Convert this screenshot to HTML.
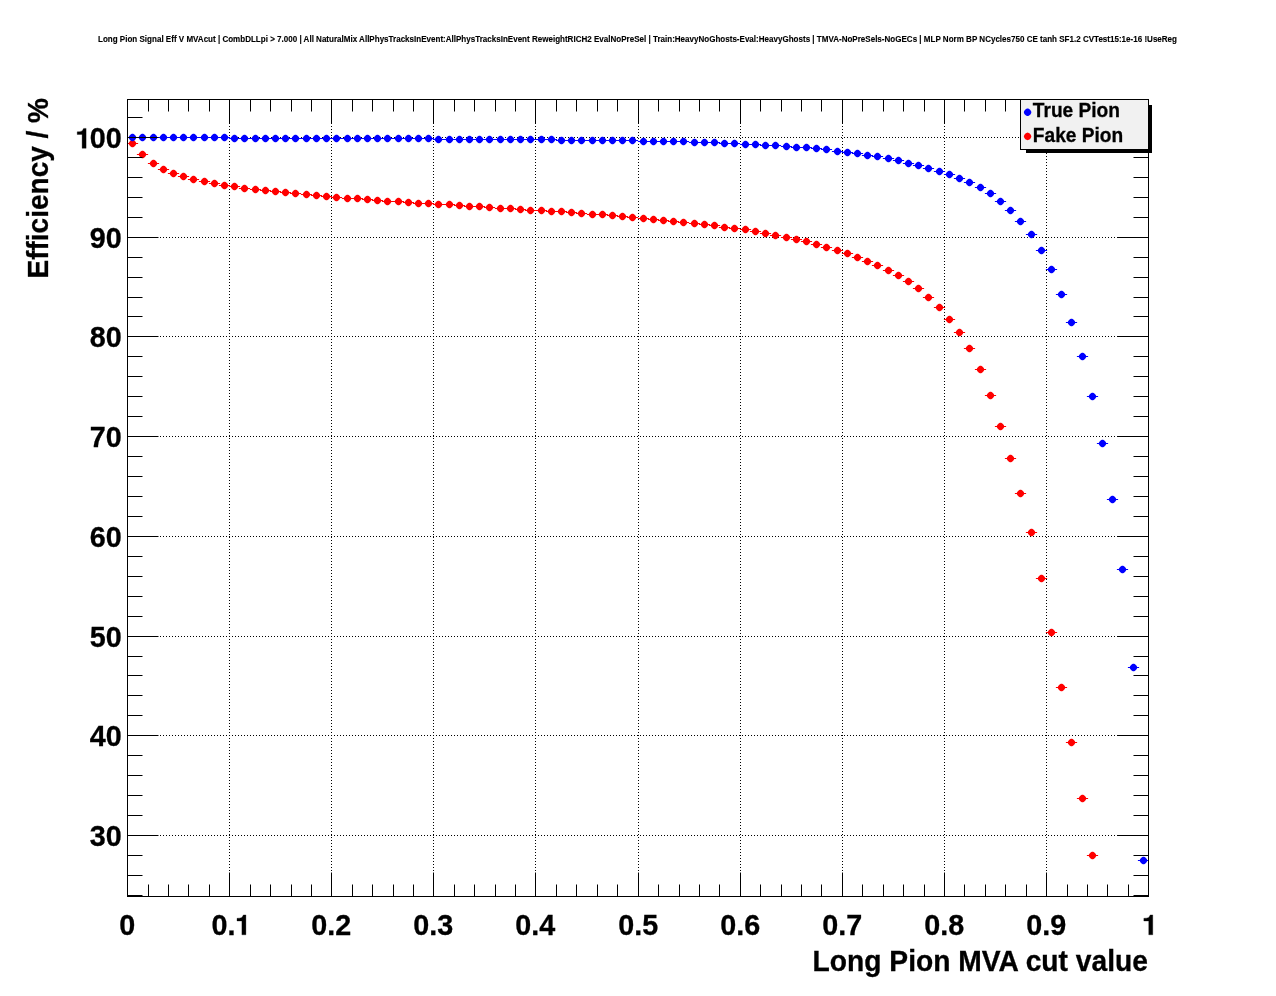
<!DOCTYPE html><html><head><meta charset="utf-8"><style>html,body{margin:0;padding:0;background:#fff;}svg{display:block;will-change:transform}text{font-family:"Liberation Sans",sans-serif;font-weight:bold;stroke:#000;stroke-width:0.3px}</style></head><body>
<svg width="1276" height="996" viewBox="0 0 1276 996">
<rect x="0" y="0" width="1276" height="996" fill="#ffffff"/>
<text x="98" y="42.3" font-size="8.4" style="stroke-width:0.12px" textLength="1079" lengthAdjust="spacingAndGlyphs">Long Pion Signal Eff V MVAcut | CombDLLpi &gt; 7.000 | All NaturalMix AllPhysTracksInEvent:AllPhysTracksInEvent ReweightRICH2 EvalNoPreSel | Train:HeavyNoGhosts-Eval:HeavyGhosts | TMVA-NoPreSels-NoGECs | MLP Norm BP NCycles750 CE tanh SF1.2 CVTest15:1e-16 !UseReg</text>
<path d="M229.5 99V897M331.5 99V897M433.5 99V897M535.5 99V897M638.5 99V897M740.5 99V897M842.5 99V897M944.5 99V897M1046.5 99V897M127 835.5H1149M127 735.5H1149M127 636.5H1149M127 536.5H1149M127 436.5H1149M127 336.5H1149M127 237.5H1149M127 137.5H1149" stroke="#000" stroke-width="1" stroke-dasharray="1 2" fill="none"/>
<defs><path id="mk" d="M3.75 0.00L3.66 0.52L3.41 1.19L3.00 1.86L2.46 2.50L1.84 3.04L1.17 3.45L0.52 3.71L0.00 3.80L-0.52 3.71L-1.17 3.45L-1.84 3.04L-2.46 2.50L-3.00 1.86L-3.41 1.19L-3.66 0.52L-3.75 0.00L-3.66 -0.52L-3.41 -1.19L-3.00 -1.86L-2.46 -2.50L-1.84 -3.04L-1.17 -3.45L-0.52 -3.71L-0.00 -3.80L0.52 -3.71L1.17 -3.45L1.84 -3.04L2.46 -2.50L3.00 -1.86L3.41 -1.19L3.66 -0.52Z"/></defs>
<defs><clipPath id="fr"><rect x="127" y="99" width="1022" height="798"/></clipPath></defs><g clip-path="url(#fr)">
<path d="M126.90 143.50H138.10M136.90 154.50H148.10M147.90 163.50H159.10M157.90 169.50H169.10M167.90 173.50H179.10M177.90 176.50H189.10M187.90 179.50H199.10M198.90 181.50H210.10M208.90 183.50H220.10M218.90 185.50H230.10M228.90 186.50H240.10M238.90 188.50H250.10M249.90 189.50H261.10M259.90 190.50H271.10M269.90 191.50H281.10M279.90 192.50H291.10M289.90 193.50H301.10M300.90 194.50H312.10M310.90 195.50H322.10M320.90 196.50H332.10M330.90 197.50H342.10M341.90 198.50H353.10M351.90 198.50H363.10M361.90 199.50H373.10M371.90 200.50H383.10M381.90 201.50H393.10M392.90 201.50H404.10M402.90 202.50H414.10M412.90 203.50H424.10M422.90 203.50H434.10M432.90 204.50H444.10M443.90 204.50H455.10M453.90 205.50H465.10M463.90 206.50H475.10M473.90 206.50H485.10M483.90 207.50H495.10M494.90 208.50H506.10M504.90 208.50H516.10M514.90 209.50H526.10M524.90 210.50H536.10M535.90 210.50H547.10M545.90 211.50H557.10M555.90 211.50H567.10M565.90 212.50H577.10M575.90 213.50H587.10M586.90 214.50H598.10M596.90 214.50H608.10M606.90 215.50H618.10M616.90 216.50H628.10M626.90 217.50H638.10M637.90 218.50H649.10M647.90 219.50H659.10M657.90 220.50H669.10M667.90 221.50H679.10M677.90 222.50H689.10M688.90 223.50H700.10M698.90 224.50H710.10M708.90 225.50H720.10M718.90 227.50H730.10M728.90 228.50H740.10M739.90 229.50H751.10M749.90 231.50H761.10M759.90 233.50H771.10M769.90 235.50H781.10M780.90 237.50H792.10M790.90 239.50H802.10M800.90 241.50H812.10M810.90 244.50H822.10M820.90 247.50H832.10M831.90 250.50H843.10M841.90 253.50H853.10M851.90 257.50H863.10M861.90 261.50H873.10M871.90 265.50H883.10M882.90 270.50H894.10M892.90 275.50H904.10M902.90 281.50H914.10M912.90 288.50H924.10M922.90 297.50H934.10M933.90 307.50H945.10M943.90 319.50H955.10M953.90 332.50H965.10M963.90 348.50H975.10M974.90 369.50H986.10M984.90 395.50H996.10M994.90 426.50H1006.10M1004.90 458.50H1016.10M1014.90 493.50H1026.10M1025.90 532.50H1037.10M1035.90 578.50H1047.10M1045.90 632.50H1057.10M1055.90 687.50H1067.10M1065.90 742.50H1077.10M1076.90 798.50H1088.10M1086.90 855.50H1098.10" stroke="#ff0000" stroke-width="1.1" fill="none"/>
<use href="#mk" x="132.5" y="143.5" fill="#ff0000"/>
<use href="#mk" x="142.5" y="154.5" fill="#ff0000"/>
<use href="#mk" x="153.5" y="163.5" fill="#ff0000"/>
<use href="#mk" x="163.5" y="169.5" fill="#ff0000"/>
<use href="#mk" x="173.5" y="173.5" fill="#ff0000"/>
<use href="#mk" x="183.5" y="176.5" fill="#ff0000"/>
<use href="#mk" x="193.5" y="179.5" fill="#ff0000"/>
<use href="#mk" x="204.5" y="181.5" fill="#ff0000"/>
<use href="#mk" x="214.5" y="183.5" fill="#ff0000"/>
<use href="#mk" x="224.5" y="185.5" fill="#ff0000"/>
<use href="#mk" x="234.5" y="186.5" fill="#ff0000"/>
<use href="#mk" x="244.5" y="188.5" fill="#ff0000"/>
<use href="#mk" x="255.5" y="189.5" fill="#ff0000"/>
<use href="#mk" x="265.5" y="190.5" fill="#ff0000"/>
<use href="#mk" x="275.5" y="191.5" fill="#ff0000"/>
<use href="#mk" x="285.5" y="192.5" fill="#ff0000"/>
<use href="#mk" x="295.5" y="193.5" fill="#ff0000"/>
<use href="#mk" x="306.5" y="194.5" fill="#ff0000"/>
<use href="#mk" x="316.5" y="195.5" fill="#ff0000"/>
<use href="#mk" x="326.5" y="196.5" fill="#ff0000"/>
<use href="#mk" x="336.5" y="197.5" fill="#ff0000"/>
<use href="#mk" x="347.5" y="198.5" fill="#ff0000"/>
<use href="#mk" x="357.5" y="198.5" fill="#ff0000"/>
<use href="#mk" x="367.5" y="199.5" fill="#ff0000"/>
<use href="#mk" x="377.5" y="200.5" fill="#ff0000"/>
<use href="#mk" x="387.5" y="201.5" fill="#ff0000"/>
<use href="#mk" x="398.5" y="201.5" fill="#ff0000"/>
<use href="#mk" x="408.5" y="202.5" fill="#ff0000"/>
<use href="#mk" x="418.5" y="203.5" fill="#ff0000"/>
<use href="#mk" x="428.5" y="203.5" fill="#ff0000"/>
<use href="#mk" x="438.5" y="204.5" fill="#ff0000"/>
<use href="#mk" x="449.5" y="204.5" fill="#ff0000"/>
<use href="#mk" x="459.5" y="205.5" fill="#ff0000"/>
<use href="#mk" x="469.5" y="206.5" fill="#ff0000"/>
<use href="#mk" x="479.5" y="206.5" fill="#ff0000"/>
<use href="#mk" x="489.5" y="207.5" fill="#ff0000"/>
<use href="#mk" x="500.5" y="208.5" fill="#ff0000"/>
<use href="#mk" x="510.5" y="208.5" fill="#ff0000"/>
<use href="#mk" x="520.5" y="209.5" fill="#ff0000"/>
<use href="#mk" x="530.5" y="210.5" fill="#ff0000"/>
<use href="#mk" x="541.5" y="210.5" fill="#ff0000"/>
<use href="#mk" x="551.5" y="211.5" fill="#ff0000"/>
<use href="#mk" x="561.5" y="211.5" fill="#ff0000"/>
<use href="#mk" x="571.5" y="212.5" fill="#ff0000"/>
<use href="#mk" x="581.5" y="213.5" fill="#ff0000"/>
<use href="#mk" x="592.5" y="214.5" fill="#ff0000"/>
<use href="#mk" x="602.5" y="214.5" fill="#ff0000"/>
<use href="#mk" x="612.5" y="215.5" fill="#ff0000"/>
<use href="#mk" x="622.5" y="216.5" fill="#ff0000"/>
<use href="#mk" x="632.5" y="217.5" fill="#ff0000"/>
<use href="#mk" x="643.5" y="218.5" fill="#ff0000"/>
<use href="#mk" x="653.5" y="219.5" fill="#ff0000"/>
<use href="#mk" x="663.5" y="220.5" fill="#ff0000"/>
<use href="#mk" x="673.5" y="221.5" fill="#ff0000"/>
<use href="#mk" x="683.5" y="222.5" fill="#ff0000"/>
<use href="#mk" x="694.5" y="223.5" fill="#ff0000"/>
<use href="#mk" x="704.5" y="224.5" fill="#ff0000"/>
<use href="#mk" x="714.5" y="225.5" fill="#ff0000"/>
<use href="#mk" x="724.5" y="227.5" fill="#ff0000"/>
<use href="#mk" x="734.5" y="228.5" fill="#ff0000"/>
<use href="#mk" x="745.5" y="229.5" fill="#ff0000"/>
<use href="#mk" x="755.5" y="231.5" fill="#ff0000"/>
<use href="#mk" x="765.5" y="233.5" fill="#ff0000"/>
<use href="#mk" x="775.5" y="235.5" fill="#ff0000"/>
<use href="#mk" x="786.5" y="237.5" fill="#ff0000"/>
<use href="#mk" x="796.5" y="239.5" fill="#ff0000"/>
<use href="#mk" x="806.5" y="241.5" fill="#ff0000"/>
<use href="#mk" x="816.5" y="244.5" fill="#ff0000"/>
<use href="#mk" x="826.5" y="247.5" fill="#ff0000"/>
<use href="#mk" x="837.5" y="250.5" fill="#ff0000"/>
<use href="#mk" x="847.5" y="253.5" fill="#ff0000"/>
<use href="#mk" x="857.5" y="257.5" fill="#ff0000"/>
<use href="#mk" x="867.5" y="261.5" fill="#ff0000"/>
<use href="#mk" x="877.5" y="265.5" fill="#ff0000"/>
<use href="#mk" x="888.5" y="270.5" fill="#ff0000"/>
<use href="#mk" x="898.5" y="275.5" fill="#ff0000"/>
<use href="#mk" x="908.5" y="281.5" fill="#ff0000"/>
<use href="#mk" x="918.5" y="288.5" fill="#ff0000"/>
<use href="#mk" x="928.5" y="297.5" fill="#ff0000"/>
<use href="#mk" x="939.5" y="307.5" fill="#ff0000"/>
<use href="#mk" x="949.5" y="319.5" fill="#ff0000"/>
<use href="#mk" x="959.5" y="332.5" fill="#ff0000"/>
<use href="#mk" x="969.5" y="348.5" fill="#ff0000"/>
<use href="#mk" x="980.5" y="369.5" fill="#ff0000"/>
<use href="#mk" x="990.5" y="395.5" fill="#ff0000"/>
<use href="#mk" x="1000.5" y="426.5" fill="#ff0000"/>
<use href="#mk" x="1010.5" y="458.5" fill="#ff0000"/>
<use href="#mk" x="1020.5" y="493.5" fill="#ff0000"/>
<use href="#mk" x="1031.5" y="532.5" fill="#ff0000"/>
<use href="#mk" x="1041.5" y="578.5" fill="#ff0000"/>
<use href="#mk" x="1051.5" y="632.5" fill="#ff0000"/>
<use href="#mk" x="1061.5" y="687.5" fill="#ff0000"/>
<use href="#mk" x="1071.5" y="742.5" fill="#ff0000"/>
<use href="#mk" x="1082.5" y="798.5" fill="#ff0000"/>
<use href="#mk" x="1092.5" y="855.5" fill="#ff0000"/>
<path d="M126.90 137.50H138.10M136.90 137.50H148.10M147.90 137.50H159.10M157.90 137.50H169.10M167.90 137.50H179.10M177.90 137.50H189.10M187.90 137.50H199.10M198.90 137.50H210.10M208.90 137.50H220.10M218.90 137.50H230.10M228.90 138.50H240.10M238.90 138.50H250.10M249.90 138.50H261.10M259.90 138.50H271.10M269.90 138.50H281.10M279.90 138.50H291.10M289.90 138.50H301.10M300.90 138.50H312.10M310.90 138.50H322.10M320.90 138.50H332.10M330.90 138.50H342.10M341.90 138.50H353.10M351.90 138.50H363.10M361.90 138.50H373.10M371.90 138.50H383.10M381.90 138.50H393.10M392.90 138.50H404.10M402.90 138.50H414.10M412.90 138.50H424.10M422.90 138.50H434.10M432.90 139.50H444.10M443.90 139.50H455.10M453.90 139.50H465.10M463.90 139.50H475.10M473.90 139.50H485.10M483.90 139.50H495.10M494.90 139.50H506.10M504.90 139.50H516.10M514.90 139.50H526.10M524.90 139.50H536.10M535.90 139.50H547.10M545.90 139.50H557.10M555.90 140.50H567.10M565.90 140.50H577.10M575.90 140.50H587.10M586.90 140.50H598.10M596.90 140.50H608.10M606.90 140.50H618.10M616.90 140.50H628.10M626.90 140.50H638.10M637.90 141.50H649.10M647.90 141.50H659.10M657.90 141.50H669.10M667.90 141.50H679.10M677.90 141.50H689.10M688.90 142.50H700.10M698.90 142.50H710.10M708.90 142.50H720.10M718.90 143.50H730.10M728.90 143.50H740.10M739.90 144.50H751.10M749.90 144.50H761.10M759.90 145.50H771.10M769.90 145.50H781.10M780.90 146.50H792.10M790.90 147.50H802.10M800.90 147.50H812.10M810.90 148.50H822.10M820.90 149.50H832.10M831.90 151.50H843.10M841.90 152.50H853.10M851.90 153.50H863.10M861.90 155.50H873.10M871.90 156.50H883.10M882.90 158.50H894.10M892.90 160.50H904.10M902.90 163.50H914.10M912.90 165.50H924.10M922.90 168.50H934.10M933.90 171.50H945.10M943.90 174.50H955.10M953.90 178.50H965.10M963.90 182.50H975.10M974.90 187.50H986.10M984.90 193.50H996.10M994.90 201.50H1006.10M1004.90 210.50H1016.10M1014.90 221.50H1026.10M1025.90 234.50H1037.10M1035.90 250.50H1047.10M1045.90 269.50H1057.10M1055.90 294.50H1067.10M1065.90 322.50H1077.10M1076.90 356.50H1088.10M1086.90 396.50H1098.10M1096.90 443.50H1108.10M1106.90 499.50H1118.10M1116.90 569.50H1128.10M1127.90 667.50H1139.10M1137.90 860.50H1149.10" stroke="#0000ff" stroke-width="1.1" fill="none"/>
<use href="#mk" x="132.5" y="137.5" fill="#0000ff"/>
<use href="#mk" x="142.5" y="137.5" fill="#0000ff"/>
<use href="#mk" x="153.5" y="137.5" fill="#0000ff"/>
<use href="#mk" x="163.5" y="137.5" fill="#0000ff"/>
<use href="#mk" x="173.5" y="137.5" fill="#0000ff"/>
<use href="#mk" x="183.5" y="137.5" fill="#0000ff"/>
<use href="#mk" x="193.5" y="137.5" fill="#0000ff"/>
<use href="#mk" x="204.5" y="137.5" fill="#0000ff"/>
<use href="#mk" x="214.5" y="137.5" fill="#0000ff"/>
<use href="#mk" x="224.5" y="137.5" fill="#0000ff"/>
<use href="#mk" x="234.5" y="138.5" fill="#0000ff"/>
<use href="#mk" x="244.5" y="138.5" fill="#0000ff"/>
<use href="#mk" x="255.5" y="138.5" fill="#0000ff"/>
<use href="#mk" x="265.5" y="138.5" fill="#0000ff"/>
<use href="#mk" x="275.5" y="138.5" fill="#0000ff"/>
<use href="#mk" x="285.5" y="138.5" fill="#0000ff"/>
<use href="#mk" x="295.5" y="138.5" fill="#0000ff"/>
<use href="#mk" x="306.5" y="138.5" fill="#0000ff"/>
<use href="#mk" x="316.5" y="138.5" fill="#0000ff"/>
<use href="#mk" x="326.5" y="138.5" fill="#0000ff"/>
<use href="#mk" x="336.5" y="138.5" fill="#0000ff"/>
<use href="#mk" x="347.5" y="138.5" fill="#0000ff"/>
<use href="#mk" x="357.5" y="138.5" fill="#0000ff"/>
<use href="#mk" x="367.5" y="138.5" fill="#0000ff"/>
<use href="#mk" x="377.5" y="138.5" fill="#0000ff"/>
<use href="#mk" x="387.5" y="138.5" fill="#0000ff"/>
<use href="#mk" x="398.5" y="138.5" fill="#0000ff"/>
<use href="#mk" x="408.5" y="138.5" fill="#0000ff"/>
<use href="#mk" x="418.5" y="138.5" fill="#0000ff"/>
<use href="#mk" x="428.5" y="138.5" fill="#0000ff"/>
<use href="#mk" x="438.5" y="139.5" fill="#0000ff"/>
<use href="#mk" x="449.5" y="139.5" fill="#0000ff"/>
<use href="#mk" x="459.5" y="139.5" fill="#0000ff"/>
<use href="#mk" x="469.5" y="139.5" fill="#0000ff"/>
<use href="#mk" x="479.5" y="139.5" fill="#0000ff"/>
<use href="#mk" x="489.5" y="139.5" fill="#0000ff"/>
<use href="#mk" x="500.5" y="139.5" fill="#0000ff"/>
<use href="#mk" x="510.5" y="139.5" fill="#0000ff"/>
<use href="#mk" x="520.5" y="139.5" fill="#0000ff"/>
<use href="#mk" x="530.5" y="139.5" fill="#0000ff"/>
<use href="#mk" x="541.5" y="139.5" fill="#0000ff"/>
<use href="#mk" x="551.5" y="139.5" fill="#0000ff"/>
<use href="#mk" x="561.5" y="140.5" fill="#0000ff"/>
<use href="#mk" x="571.5" y="140.5" fill="#0000ff"/>
<use href="#mk" x="581.5" y="140.5" fill="#0000ff"/>
<use href="#mk" x="592.5" y="140.5" fill="#0000ff"/>
<use href="#mk" x="602.5" y="140.5" fill="#0000ff"/>
<use href="#mk" x="612.5" y="140.5" fill="#0000ff"/>
<use href="#mk" x="622.5" y="140.5" fill="#0000ff"/>
<use href="#mk" x="632.5" y="140.5" fill="#0000ff"/>
<use href="#mk" x="643.5" y="141.5" fill="#0000ff"/>
<use href="#mk" x="653.5" y="141.5" fill="#0000ff"/>
<use href="#mk" x="663.5" y="141.5" fill="#0000ff"/>
<use href="#mk" x="673.5" y="141.5" fill="#0000ff"/>
<use href="#mk" x="683.5" y="141.5" fill="#0000ff"/>
<use href="#mk" x="694.5" y="142.5" fill="#0000ff"/>
<use href="#mk" x="704.5" y="142.5" fill="#0000ff"/>
<use href="#mk" x="714.5" y="142.5" fill="#0000ff"/>
<use href="#mk" x="724.5" y="143.5" fill="#0000ff"/>
<use href="#mk" x="734.5" y="143.5" fill="#0000ff"/>
<use href="#mk" x="745.5" y="144.5" fill="#0000ff"/>
<use href="#mk" x="755.5" y="144.5" fill="#0000ff"/>
<use href="#mk" x="765.5" y="145.5" fill="#0000ff"/>
<use href="#mk" x="775.5" y="145.5" fill="#0000ff"/>
<use href="#mk" x="786.5" y="146.5" fill="#0000ff"/>
<use href="#mk" x="796.5" y="147.5" fill="#0000ff"/>
<use href="#mk" x="806.5" y="147.5" fill="#0000ff"/>
<use href="#mk" x="816.5" y="148.5" fill="#0000ff"/>
<use href="#mk" x="826.5" y="149.5" fill="#0000ff"/>
<use href="#mk" x="837.5" y="151.5" fill="#0000ff"/>
<use href="#mk" x="847.5" y="152.5" fill="#0000ff"/>
<use href="#mk" x="857.5" y="153.5" fill="#0000ff"/>
<use href="#mk" x="867.5" y="155.5" fill="#0000ff"/>
<use href="#mk" x="877.5" y="156.5" fill="#0000ff"/>
<use href="#mk" x="888.5" y="158.5" fill="#0000ff"/>
<use href="#mk" x="898.5" y="160.5" fill="#0000ff"/>
<use href="#mk" x="908.5" y="163.5" fill="#0000ff"/>
<use href="#mk" x="918.5" y="165.5" fill="#0000ff"/>
<use href="#mk" x="928.5" y="168.5" fill="#0000ff"/>
<use href="#mk" x="939.5" y="171.5" fill="#0000ff"/>
<use href="#mk" x="949.5" y="174.5" fill="#0000ff"/>
<use href="#mk" x="959.5" y="178.5" fill="#0000ff"/>
<use href="#mk" x="969.5" y="182.5" fill="#0000ff"/>
<use href="#mk" x="980.5" y="187.5" fill="#0000ff"/>
<use href="#mk" x="990.5" y="193.5" fill="#0000ff"/>
<use href="#mk" x="1000.5" y="201.5" fill="#0000ff"/>
<use href="#mk" x="1010.5" y="210.5" fill="#0000ff"/>
<use href="#mk" x="1020.5" y="221.5" fill="#0000ff"/>
<use href="#mk" x="1031.5" y="234.5" fill="#0000ff"/>
<use href="#mk" x="1041.5" y="250.5" fill="#0000ff"/>
<use href="#mk" x="1051.5" y="269.5" fill="#0000ff"/>
<use href="#mk" x="1061.5" y="294.5" fill="#0000ff"/>
<use href="#mk" x="1071.5" y="322.5" fill="#0000ff"/>
<use href="#mk" x="1082.5" y="356.5" fill="#0000ff"/>
<use href="#mk" x="1092.5" y="396.5" fill="#0000ff"/>
<use href="#mk" x="1102.5" y="443.5" fill="#0000ff"/>
<use href="#mk" x="1112.5" y="499.5" fill="#0000ff"/>
<use href="#mk" x="1122.5" y="569.5" fill="#0000ff"/>
<use href="#mk" x="1133.5" y="667.5" fill="#0000ff"/>
<use href="#mk" x="1143.5" y="860.5" fill="#0000ff"/>
</g>
<path d="M127.5 896.5V872.5M127.5 99.5V123.5M148.5 896.5V884.5M148.5 99.5V111.5M168.5 896.5V884.5M168.5 99.5V111.5M188.5 896.5V884.5M188.5 99.5V111.5M209.5 896.5V884.5M209.5 99.5V111.5M229.5 896.5V872.5M229.5 99.5V123.5M250.5 896.5V884.5M250.5 99.5V111.5M270.5 896.5V884.5M270.5 99.5V111.5M291.5 896.5V884.5M291.5 99.5V111.5M311.5 896.5V884.5M311.5 99.5V111.5M331.5 896.5V872.5M331.5 99.5V123.5M352.5 896.5V884.5M352.5 99.5V111.5M372.5 896.5V884.5M372.5 99.5V111.5M393.5 896.5V884.5M393.5 99.5V111.5M413.5 896.5V884.5M413.5 99.5V111.5M433.5 896.5V872.5M433.5 99.5V123.5M454.5 896.5V884.5M454.5 99.5V111.5M474.5 896.5V884.5M474.5 99.5V111.5M495.5 896.5V884.5M495.5 99.5V111.5M515.5 896.5V884.5M515.5 99.5V111.5M535.5 896.5V872.5M535.5 99.5V123.5M556.5 896.5V884.5M556.5 99.5V111.5M576.5 896.5V884.5M576.5 99.5V111.5M597.5 896.5V884.5M597.5 99.5V111.5M617.5 896.5V884.5M617.5 99.5V111.5M638.5 896.5V872.5M638.5 99.5V123.5M658.5 896.5V884.5M658.5 99.5V111.5M679.5 896.5V884.5M679.5 99.5V111.5M699.5 896.5V884.5M699.5 99.5V111.5M719.5 896.5V884.5M719.5 99.5V111.5M740.5 896.5V872.5M740.5 99.5V123.5M760.5 896.5V884.5M760.5 99.5V111.5M781.5 896.5V884.5M781.5 99.5V111.5M801.5 896.5V884.5M801.5 99.5V111.5M821.5 896.5V884.5M821.5 99.5V111.5M842.5 896.5V872.5M842.5 99.5V123.5M862.5 896.5V884.5M862.5 99.5V111.5M883.5 896.5V884.5M883.5 99.5V111.5M903.5 896.5V884.5M903.5 99.5V111.5M924.5 896.5V884.5M924.5 99.5V111.5M944.5 896.5V872.5M944.5 99.5V123.5M964.5 896.5V884.5M964.5 99.5V111.5M985.5 896.5V884.5M985.5 99.5V111.5M1005.5 896.5V884.5M1005.5 99.5V111.5M1026.5 896.5V884.5M1026.5 99.5V111.5M1046.5 896.5V872.5M1046.5 99.5V123.5M1067.5 896.5V884.5M1067.5 99.5V111.5M1087.5 896.5V884.5M1087.5 99.5V111.5M1107.5 896.5V884.5M1107.5 99.5V111.5M1128.5 896.5V884.5M1128.5 99.5V111.5M1148.5 896.5V872.5M1148.5 99.5V123.5M127.5 895.5H142.5M1148.5 895.5H1133.5M127.5 875.5H142.5M1148.5 875.5H1133.5M127.5 855.5H142.5M1148.5 855.5H1133.5M127.5 835.5H158.5M1148.5 835.5H1117.5M127.5 815.5H142.5M1148.5 815.5H1133.5M127.5 795.5H142.5M1148.5 795.5H1133.5M127.5 775.5H142.5M1148.5 775.5H1133.5M127.5 755.5H142.5M1148.5 755.5H1133.5M127.5 735.5H158.5M1148.5 735.5H1117.5M127.5 715.5H142.5M1148.5 715.5H1133.5M127.5 695.5H142.5M1148.5 695.5H1133.5M127.5 675.5H142.5M1148.5 675.5H1133.5M127.5 656.5H142.5M1148.5 656.5H1133.5M127.5 636.5H158.5M1148.5 636.5H1117.5M127.5 616.5H142.5M1148.5 616.5H1133.5M127.5 596.5H142.5M1148.5 596.5H1133.5M127.5 576.5H142.5M1148.5 576.5H1133.5M127.5 556.5H142.5M1148.5 556.5H1133.5M127.5 536.5H158.5M1148.5 536.5H1117.5M127.5 516.5H142.5M1148.5 516.5H1133.5M127.5 496.5H142.5M1148.5 496.5H1133.5M127.5 476.5H142.5M1148.5 476.5H1133.5M127.5 456.5H142.5M1148.5 456.5H1133.5M127.5 436.5H158.5M1148.5 436.5H1117.5M127.5 416.5H142.5M1148.5 416.5H1133.5M127.5 396.5H142.5M1148.5 396.5H1133.5M127.5 376.5H142.5M1148.5 376.5H1133.5M127.5 356.5H142.5M1148.5 356.5H1133.5M127.5 336.5H158.5M1148.5 336.5H1117.5M127.5 316.5H142.5M1148.5 316.5H1133.5M127.5 297.5H142.5M1148.5 297.5H1133.5M127.5 277.5H142.5M1148.5 277.5H1133.5M127.5 257.5H142.5M1148.5 257.5H1133.5M127.5 237.5H158.5M1148.5 237.5H1117.5M127.5 217.5H142.5M1148.5 217.5H1133.5M127.5 197.5H142.5M1148.5 197.5H1133.5M127.5 177.5H142.5M1148.5 177.5H1133.5M127.5 157.5H142.5M1148.5 157.5H1133.5M127.5 137.5H158.5M1148.5 137.5H1117.5M127.5 117.5H142.5M1148.5 117.5H1133.5" stroke="#000" stroke-width="1" fill="none"/>
<rect x="127.5" y="99.5" width="1021.0" height="797.0" fill="none" stroke="#000" stroke-width="1"/>
<text transform="translate(89.80,846.30) scale(0.9590,1)" font-size="30.0" text-anchor="start">3</text><text transform="translate(105.80,846.30) scale(0.9590,1)" font-size="30.0" text-anchor="start">0</text>
<text transform="translate(89.80,746.30) scale(0.9590,1)" font-size="30.0" text-anchor="start">4</text><text transform="translate(105.80,746.30) scale(0.9590,1)" font-size="30.0" text-anchor="start">0</text>
<text transform="translate(89.80,647.30) scale(0.9590,1)" font-size="30.0" text-anchor="start">5</text><text transform="translate(105.80,647.30) scale(0.9590,1)" font-size="30.0" text-anchor="start">0</text>
<text transform="translate(89.80,547.30) scale(0.9590,1)" font-size="30.0" text-anchor="start">6</text><text transform="translate(105.80,547.30) scale(0.9590,1)" font-size="30.0" text-anchor="start">0</text>
<text transform="translate(89.80,447.30) scale(0.9590,1)" font-size="30.0" text-anchor="start">7</text><text transform="translate(105.80,447.30) scale(0.9590,1)" font-size="30.0" text-anchor="start">0</text>
<text transform="translate(89.80,347.30) scale(0.9590,1)" font-size="30.0" text-anchor="start">8</text><text transform="translate(105.80,347.30) scale(0.9590,1)" font-size="30.0" text-anchor="start">0</text>
<text transform="translate(89.80,248.30) scale(0.9590,1)" font-size="30.0" text-anchor="start">9</text><text transform="translate(105.80,248.30) scale(0.9590,1)" font-size="30.0" text-anchor="start">0</text>
<path d="M77.21 131.80Q80.01 131.70 82.11 130.90L83.61 128.40H86.11V148.30H82.11V134.50H77.21Z" fill="#000" stroke="#000" stroke-width="0.3"/><text transform="translate(89.80,148.30) scale(0.9590,1)" font-size="30.0" text-anchor="start">0</text><text transform="translate(105.80,148.30) scale(0.9590,1)" font-size="30.0" text-anchor="start">0</text>
<text transform="translate(119.30,934.80) scale(0.9590,1)" font-size="30.0" text-anchor="start">0</text>
<text transform="translate(211.40,934.80) scale(0.9590,1)" font-size="30.0" text-anchor="start">0</text><text transform="translate(227.40,934.80) scale(0.9590,1)" font-size="30.0" text-anchor="start">.</text><path d="M237.00 918.30Q239.80 918.20 241.90 917.40L243.40 914.90H245.90V934.80H241.90V921.00H237.00Z" fill="#000" stroke="#000" stroke-width="0.3"/>
<text transform="translate(311.25,934.80) scale(0.9590,1)" font-size="30.0" text-anchor="start">0</text><text transform="translate(327.25,934.80) scale(0.9590,1)" font-size="30.0" text-anchor="start">.</text><text transform="translate(335.25,934.80) scale(0.9590,1)" font-size="30.0" text-anchor="start">2</text>
<text transform="translate(413.25,934.80) scale(0.9590,1)" font-size="30.0" text-anchor="start">0</text><text transform="translate(429.25,934.80) scale(0.9590,1)" font-size="30.0" text-anchor="start">.</text><text transform="translate(437.25,934.80) scale(0.9590,1)" font-size="30.0" text-anchor="start">3</text>
<text transform="translate(515.25,934.80) scale(0.9590,1)" font-size="30.0" text-anchor="start">0</text><text transform="translate(531.25,934.80) scale(0.9590,1)" font-size="30.0" text-anchor="start">.</text><text transform="translate(539.25,934.80) scale(0.9590,1)" font-size="30.0" text-anchor="start">4</text>
<text transform="translate(618.25,934.80) scale(0.9590,1)" font-size="30.0" text-anchor="start">0</text><text transform="translate(634.25,934.80) scale(0.9590,1)" font-size="30.0" text-anchor="start">.</text><text transform="translate(642.25,934.80) scale(0.9590,1)" font-size="30.0" text-anchor="start">5</text>
<text transform="translate(720.25,934.80) scale(0.9590,1)" font-size="30.0" text-anchor="start">0</text><text transform="translate(736.25,934.80) scale(0.9590,1)" font-size="30.0" text-anchor="start">.</text><text transform="translate(744.25,934.80) scale(0.9590,1)" font-size="30.0" text-anchor="start">6</text>
<text transform="translate(822.25,934.80) scale(0.9590,1)" font-size="30.0" text-anchor="start">0</text><text transform="translate(838.25,934.80) scale(0.9590,1)" font-size="30.0" text-anchor="start">.</text><text transform="translate(846.25,934.80) scale(0.9590,1)" font-size="30.0" text-anchor="start">7</text>
<text transform="translate(924.25,934.80) scale(0.9590,1)" font-size="30.0" text-anchor="start">0</text><text transform="translate(940.25,934.80) scale(0.9590,1)" font-size="30.0" text-anchor="start">.</text><text transform="translate(948.25,934.80) scale(0.9590,1)" font-size="30.0" text-anchor="start">8</text>
<text transform="translate(1026.25,934.80) scale(0.9590,1)" font-size="30.0" text-anchor="start">0</text><text transform="translate(1042.25,934.80) scale(0.9590,1)" font-size="30.0" text-anchor="start">.</text><text transform="translate(1050.25,934.80) scale(0.9590,1)" font-size="30.0" text-anchor="start">9</text>
<path d="M1143.85 918.30Q1146.65 918.20 1148.75 917.40L1150.25 914.90H1152.75V934.80H1148.75V921.00H1143.85Z" fill="#000" stroke="#000" stroke-width="0.3"/>
<text x="812.6" y="970.8" font-size="28.6" textLength="335.3" lengthAdjust="spacingAndGlyphs">Long Pion MVA cut value</text>
<text transform="translate(48.00,98.00) scale(1.0000,1) rotate(-90) scale(0.921,1)" font-size="30.4" text-anchor="end">Efficiency / %</text>
<rect x="1026" y="105" width="126" height="48" fill="#000"/>
<rect x="1020.5" y="99.5" width="128" height="50" fill="#f1f1f1" stroke="#000" stroke-width="1"/>
<use href="#mk" x="1027.6" y="112.3" fill="#0000ff"/>
<use href="#mk" x="1027.6" y="136.4" fill="#ff0000"/>
<text transform="translate(1032.80,116.90) scale(0.9620,1)" font-size="19.9" text-anchor="start">True Pion</text>
<text transform="translate(1032.80,141.80) scale(0.9620,1)" font-size="19.9" text-anchor="start">Fake Pion</text>
</svg></body></html>
